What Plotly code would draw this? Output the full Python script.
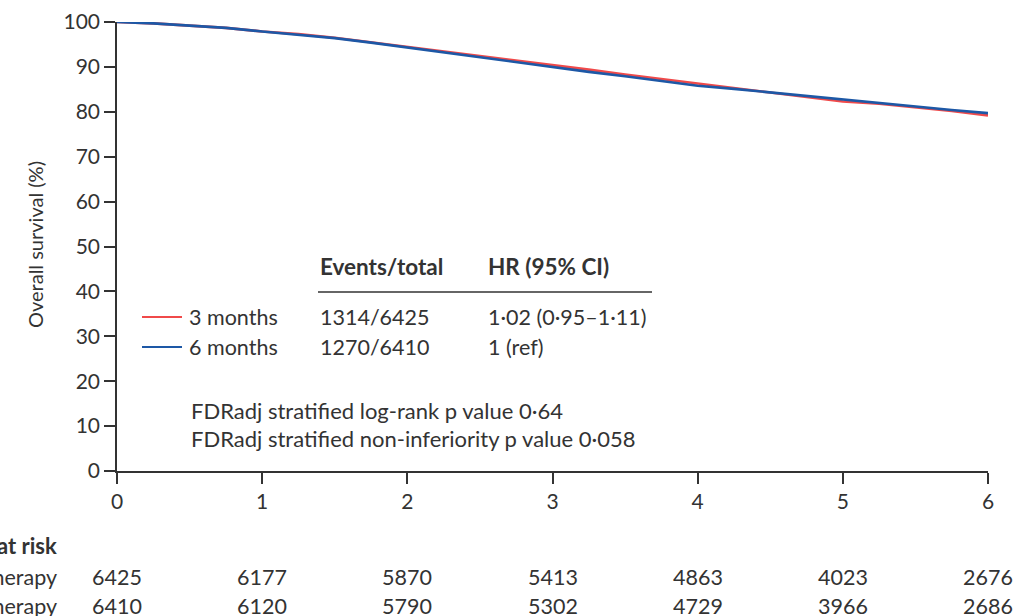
import plotly.graph_objects as go

# Kaplan-Meier curves (years, overall survival %)
time_3m = [0, 0.25, 0.5, 0.75, 1.0, 1.25, 1.5, 1.75, 2.0, 2.25, 2.5, 2.75, 3.0,
           3.25, 3.5, 3.75, 4.0, 4.25, 4.5, 4.75, 5.0, 5.25, 5.5, 5.75, 6.0]
surv_3m = [100, 99.7, 99.2, 98.7, 97.9, 97.3, 96.5, 95.5, 94.5, 93.4, 92.4, 91.4, 90.4,
           89.4, 88.3, 87.3, 86.2, 85.2, 84.2, 83.2, 82.3, 81.8, 81.0, 80.2, 79.2]
time_6m = [0, 0.25, 0.5, 0.75, 1.0, 1.25, 1.5, 1.75, 2.0, 2.25, 2.5, 2.75, 3.0,
           3.25, 3.5, 3.75, 4.0, 4.25, 4.5, 4.75, 5.0, 5.25, 5.5, 5.75, 6.0]
surv_6m = [100, 99.7, 99.2, 98.7, 97.9, 97.2, 96.4, 95.4, 94.3, 93.2, 92.2, 91.1, 90.0,
           88.9, 87.9, 86.8, 85.8, 85.1, 84.3, 83.5, 82.8, 82.0, 81.2, 80.4, 79.7]

risk_times = [0, 1, 2, 3, 4, 5, 6]
risk_3m = [6425, 6177, 5870, 5413, 4863, 4023, 2676]
risk_6m = [6410, 6120, 5790, 5302, 4729, 3966, 2686]

series_names = ["3 months", "6 months"]
events_total = ["1314/6425", "1270/6410"]
hr_text = ["1·02 (0·95–1·11)", "1 (ref)"]
risk_labels = ["3 months of therapy", "6 months of therapy"]

RED = "#f04a4a"
BLUE = "#1d58a6"
TXT = "#333333"
FONT = "Lato"

fig = go.Figure()
fig.add_trace(go.Scatter(x=time_3m, y=surv_3m, mode="lines",
                         line=dict(color=RED, width=2.6), name=series_names[0],
                         showlegend=False))
fig.add_trace(go.Scatter(x=time_6m, y=surv_6m, mode="lines",
                         line=dict(color=BLUE, width=2.6), name=series_names[1],
                         showlegend=False))

# plot area in pixels: x 117..988, y 22..471
L, R, T, B = 117, 988, 22, 471

def px(x):
    return (x - L) / (R - L)

def py(y):
    return (B - y) / (B - T)

ann = []
def text(x, y, s, size=21.5, bold=False, xanchor="left", xref="paper"):
    ann.append(dict(x=x, y=y, xref=xref, yref="paper",
                    text=("<b>%s</b>" % s) if bold else s,
                    showarrow=False, xanchor=xanchor, yanchor="middle",
                    font=dict(family=FONT, size=size, color=TXT)))

# inset table
text(px(318), py(266), "Events/total", size=22.5, bold=True)
text(px(486), py(266), "HR (95% CI)", size=22.5, bold=True)
row_y = [py(317), py(347)]
colors = [RED, BLUE]
shapes = [dict(type="line", xref="paper", yref="paper", x0=px(318), x1=px(652),
               y0=py(292), y1=py(292), line=dict(color=TXT, width=1.6))]
for i in range(2):
    shapes.append(dict(type="line", xref="paper", yref="paper", x0=px(142), x1=px(182),
                       y0=row_y[i], y1=row_y[i], line=dict(color=colors[i], width=2)))
    text(px(187), row_y[i], series_names[i])
    text(px(318), row_y[i], events_total[i])
    text(px(486), row_y[i], hr_text[i])
text(px(189), py(410), "FDRadj stratified log-rank p value 0·64", size=22)
text(px(189), py(438), "FDRadj stratified non-inferiority p value 0·058", size=22)

# y-axis title
ann.append(dict(x=px(35), y=py(245), xref="paper", yref="paper",
                text="Overall survival (%)", textangle=-90, showarrow=False,
                xanchor="center", yanchor="middle",
                font=dict(family=FONT, size=20, color=TXT)))

# number at risk table
text(px(59), py(545), "Number at risk", size=22, bold=True, xanchor="right")
risk_rows = [risk_3m, risk_6m]
risk_y = [py(577), py(606)]
for i in range(2):
    text(px(59), risk_y[i], risk_labels[i], xanchor="right")
    for t, v in zip(risk_times, risk_rows[i]):
        text(t, risk_y[i], str(v), xanchor="center", xref="x")

fig.update_layout(
    width=1018, height=616,
    margin=dict(l=L, r=1018 - R, t=T, b=616 - B, autoexpand=False),
    paper_bgcolor="white", plot_bgcolor="white",
    font=dict(family=FONT, size=21, color=TXT),
    annotations=ann, shapes=shapes,
    xaxis=dict(range=[0, 6], tickvals=risk_times, ticks="outside", ticklen=11,
               tickwidth=1.6, tickcolor="#333", showline=True, linecolor="#333",
               linewidth=1.6, showgrid=False, zeroline=False, automargin=False,
               ticklabelstandoff=0,
               tickfont=dict(family=FONT, size=21, color=TXT)),
    yaxis=dict(range=[0, 100], tickvals=list(range(0, 101, 10)), ticks="outside",
               ticklen=11, tickwidth=1.6, tickcolor="#333", showline=True,
               linecolor="#333", linewidth=1.6, showgrid=False, zeroline=False,
               ticklabelstandoff=0, automargin=False,
               tickfont=dict(family=FONT, size=21, color=TXT)),
)

fig.write_html("out.html", config={"displayModeBar": False},
               post_script="document.body.style.margin='0';document.body.style.overflow='hidden';")
